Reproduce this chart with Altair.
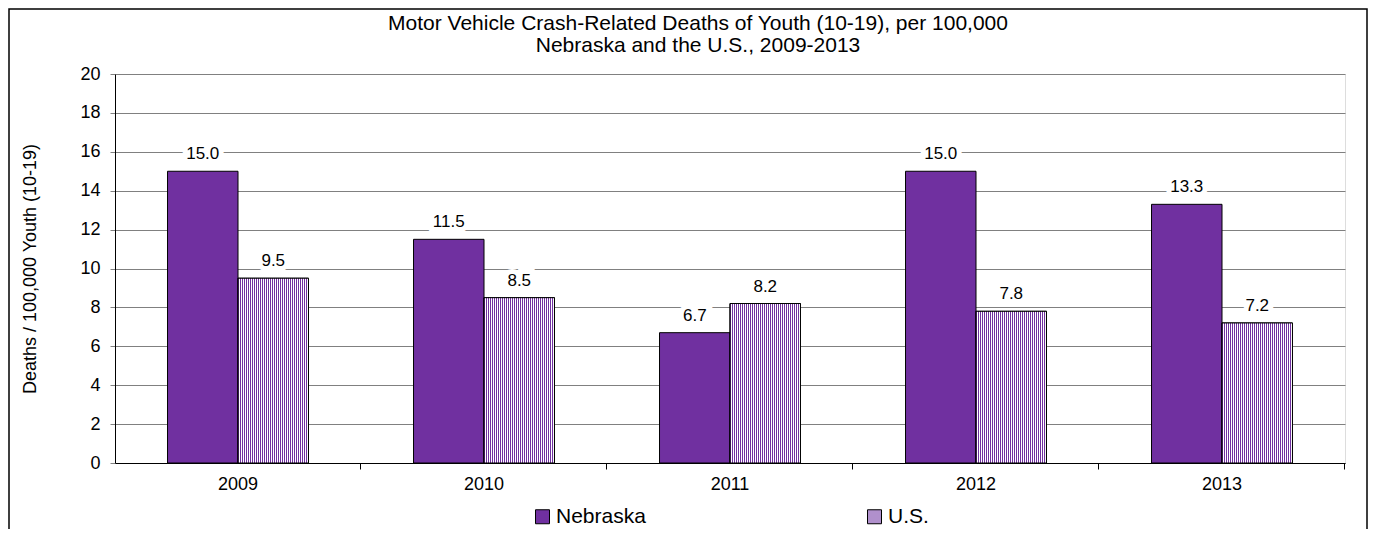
import altair as alt
import pandas as pd

# ---- data ----
years = ["2009", "2010", "2011", "2012", "2013"]
nebraska = [15.0, 11.5, 6.7, 15.0, 13.3]
us = [9.5, 8.5, 8.2, 7.8, 7.2]
series = ["Nebraska", "U.S."]
y_ticks = [0, 2, 4, 6, 8, 10, 12, 14, 16, 18, 20]

rows = []
for yr, n, u in zip(years, nebraska, us):
    rows.append({"year": yr, "series": "Nebraska", "value": n})
    rows.append({"year": yr, "series": "U.S.", "value": u})
df = pd.DataFrame(rows)

# ---- style ----
FONT = "Liberation Sans"
PURPLE = "#7030A0"
LIGHT = "#b090cc"
GRID = "#808080"
W, H = 1230, 389
PAD = {"left": 107, "top": 66, "right": 23, "bottom": 66}
P_IN = 0.427
P_OUT = P_IN / 2

# checker-like texture for the U.S. bars: stripes with a 2px period
bar_w = (W / len(years)) * (1 - P_IN) / 2
period = 2.0 / bar_w
SHARE = 0.5
stops = []
start = 0.0
while start < 1.0:
    m = min(start + period * SHARE, 1.0)
    b = min(start + period, 1.0)
    stops += [
        alt.GradientStop(offset=round(start, 5), color=PURPLE),
        alt.GradientStop(offset=round(m, 5), color=PURPLE),
        alt.GradientStop(offset=round(m, 5), color="white"),
        alt.GradientStop(offset=round(b, 5), color="white"),
    ]
    start += period
texture = alt.LinearGradient(gradient="linear", stops=stops, x1=0, x2=1, y1=0, y2=0)

x_enc = alt.X(
    "year:N", sort=years, title=None,
    scale=alt.Scale(paddingInner=P_IN, paddingOuter=P_OUT),
    axis=alt.Axis(labelAngle=0, labelFontSize=18, labelFont=FONT, labelColor="black",
                  labelPadding=6, domainColor="black", domainWidth=1, tickColor="black",
                  tickSize=6, bandPosition=1.3723, grid=False),
)
xo_enc = alt.XOffset("series:N", sort=series,
                     scale=alt.Scale(domain=series, paddingInner=0, paddingOuter=0))
y_enc = alt.Y(
    "value:Q", title="Deaths / 100,000 Youth (10-19)",
    scale=alt.Scale(domain=[0, 20], nice=False),
    axis=alt.Axis(values=y_ticks, labelFontSize=18, labelFont=FONT, labelColor="black",
                  labelPadding=10, tickSize=5, tickColor=GRID, gridColor=GRID, gridWidth=1,
                  domainColor="black", titleFont=FONT, titleFontSize=18,
                  titleFontWeight="normal", titleColor="black", titlePadding=40),
)

base = alt.Chart(df)

bars = base.mark_bar(stroke="black", strokeWidth=1).encode(
    x=x_enc, xOffset=xo_enc, y=y_enc,
    color=alt.Color(
        "series:N", sort=series,
        scale=alt.Scale(domain=series, range=[PURPLE, LIGHT]),
        legend=alt.Legend(title=None, orient="none", direction="horizontal",
                          legendX=417, legendY=432, padding=0,
                          labelFontSize=21, labelFont=FONT, labelColor="black",
                          symbolType="square", symbolSize=196, symbolStrokeColor="black",
                          symbolStrokeWidth=1, symbolOpacity=1, columnPadding=218,
                          labelOffset=3),
    ),
)

us_bars = base.transform_filter(alt.datum.series == "U.S.").mark_bar(
    fill=texture, stroke="black", strokeWidth=1
).encode(x=x_enc, xOffset=xo_enc, y=y_enc)

halo = base.mark_text(
    font=FONT, fontSize=17, baseline="bottom", dy=-8, stroke="white",
    strokeWidth=10, fill="white",
).encode(x=x_enc, xOffset=xo_enc, y=y_enc, text=alt.Text("value:Q", format=".1f"))

labels = base.mark_text(
    font=FONT, fontSize=17, baseline="bottom", dy=-8, color="black",
).encode(x=x_enc, xOffset=xo_enc, y=y_enc, text=alt.Text("value:Q", format=".1f"))

# outer frame around the whole figure
frame = alt.Chart(pd.DataFrame({"f": [0]})).mark_rect(
    fill=None, stroke="black", strokeWidth=1.5
).encode(
    x=alt.value(-PAD["left"] + 1), x2=alt.value(W + PAD["right"] - 1),
    y=alt.value(-PAD["top"] + 1), y2=alt.value(H + PAD["bottom"] + 20),
)

chart = alt.layer(frame, bars, us_bars, halo, labels).properties(
    width=W, height=H,
    title=alt.Title(
        ["Motor Vehicle Crash-Related Deaths of Youth (10-19), per 100,000",
         "Nebraska and the U.S., 2009-2013"],
        font=FONT, fontSize=21, fontWeight="normal", color="black",
        anchor="middle", dx=-32, dy=62, offset=14, lineHeight=22,
    ),
    padding=PAD,
    autosize=alt.AutoSizeParams(type="none"),
).configure_view(stroke=GRID, strokeWidth=1).configure(background="white")

chart.save("out.html", embed_options={"renderer": "svg", "actions": False})
